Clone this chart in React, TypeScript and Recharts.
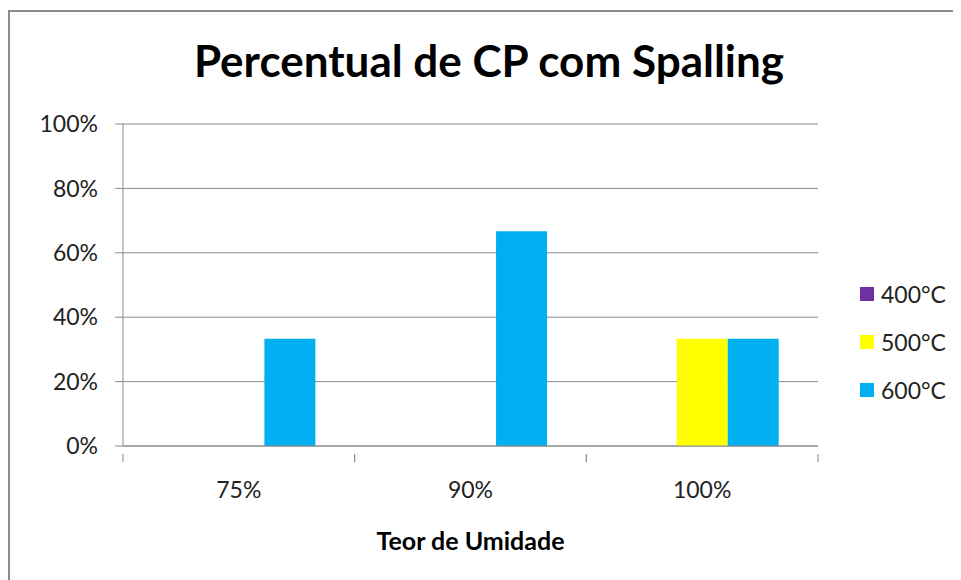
import React from 'react';
import { BarChart, Bar, XAxis, YAxis, CartesianGrid, Legend, Label } from 'recharts';

const categories = ['75%', '90%', '100%'];
const s400 = [0, 0, 0];
const s500 = [0, 0, 0.333];
const s600 = [0.333, 0.667, 0.333];
const yTicks = [0, 0.2, 0.4, 0.6, 0.8, 1];

const series = [
  { key: 't400', name: '400°C', color: '#7030A0', values: s400 },
  { key: 't500', name: '500°C', color: '#FFFF00', values: s500 },
  { key: 't600', name: '600°C', color: '#00B0F0', values: s600 },
];

const data = categories.map((c, i) => {
  const row: any = { cat: c };
  series.forEach((s) => (row[s.key] = s.values[i]));
  return row;
});

const FONT = 'Lato, "Open Sans", sans-serif';
const GRID = '#8a8a8a';

const XTick = (props: any) => {
  const { x, y, payload } = props;
  const off = payload.offset || 0;
  return (
    <g>
      <line x1={x - off} x2={x - off} y1={y} y2={y + 8} stroke={GRID} strokeWidth={1} />
      <line x1={x + off} x2={x + off} y1={y} y2={y + 8} stroke={GRID} strokeWidth={1} />
      <text x={x} y={y + 44} textAnchor="middle" fontSize={23} fill="#222" fontFamily={FONT}>
        {payload.value}
      </text>
    </g>
  );
};

const LegendContent = (props: any) => {
  const { payload } = props;
  return (
    <div style={{ fontFamily: FONT }}>
      {payload.map((p: any) => (
        <div key={p.value} style={{ height: 48, display: 'flex', alignItems: 'center' }}>
          <div style={{ width: 14, height: 14, background: p.color, marginRight: 7 }} />
          <span style={{ fontSize: 23, color: '#222' }}>{p.value}</span>
        </div>
      ))}
    </div>
  );
};

export default function App() {
  return (
    <div style={{ position: 'relative', width: 961, height: 580, margin: '-8px 0 0 -8px', overflow: 'hidden', background: '#fff', fontFamily: FONT }}>
      <div style={{ position: 'absolute', left: 8, top: 10, width: 1100, height: 1000, border: '2px solid #8c8c8c', boxSizing: 'border-box' }} />
      <div style={{ position: 'absolute', left: 0, width: 978, top: 30, textAlign: 'center', fontSize: 44, fontWeight: 700, color: '#000', lineHeight: '60px' }}>
        Percentual de CP com Spalling
      </div>
      <BarChart
        width={961}
        height={580}
        data={data}
        margin={{ top: 124, right: 143, bottom: 24, left: 63 }}
        barCategoryGap="17%"
        barGap={0}
        style={{ position: 'absolute', left: 0, top: 0 }}
      >
        <CartesianGrid vertical={false} stroke={GRID} strokeWidth={1} />
        <YAxis
          domain={[0, 1]}
          ticks={yTicks}
          width={60}
          tickFormatter={(v: number) => `${Math.round(v * 100)}%`}
          axisLine={{ stroke: GRID }}
          tickLine={{ stroke: GRID }}
          tickSize={8}
          tickMargin={17}
          tick={{ fontSize: 23, fill: '#222', fontFamily: FONT }}
          interval={0}
        />
        <XAxis
          dataKey="cat"
          height={110}
          axisLine={{ stroke: GRID }}
          tickLine={false}
          tick={<XTick />}
          interval={0}
        >
          <Label value="Teor de Umidade" position="insideTop" offset={86} style={{ fontSize: 25, fontWeight: 700, fill: '#000', fontFamily: FONT }} />
        </XAxis>
        <Legend
          layout="vertical"
          align="center"
          verticalAlign="middle"
          content={<LegendContent />}
          wrapperStyle={{ position: 'absolute', left: 860, top: 270, width: 100 }}
        />
        {series.map((s) => (
          <Bar key={s.key} dataKey={s.key} name={s.name} fill={s.color} isAnimationActive={false} />
        ))}
      </BarChart>
    </div>
  );
}
